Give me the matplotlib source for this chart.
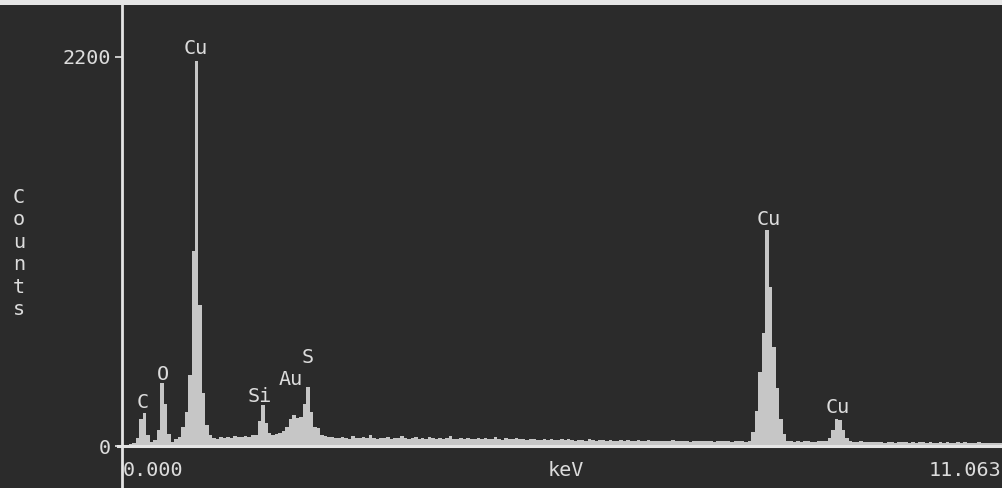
import numpy as np
import matplotlib
matplotlib.use("Agg")
import matplotlib.pyplot as plt
from matplotlib.lines import Line2D
from matplotlib.patches import Rectangle

# -----------------------------
# DATA (EDX spectrum, 256 display channels, 0 - 11.063 keV)
# -----------------------------
E_MAX = 11.063
Y_TOP = 2494

counts_low = [0, 4, 10, 18, 45, 150, 188, 60, 25, 35, 90, 356, 240, 70, 22, 40,
              50, 110, 190, 400, 1100, 2180, 800, 300, 120, 60]            # ch 0-25  (C, O, Cu L)
counts_bg1 = [48, 42, 50, 45, 52, 47, 55, 49, 53, 58, 52, 60]                # ch 26-37
counts_mid = [65, 140, 232, 130, 75, 60, 68, 75, 85, 110, 150, 175, 160, 165,
              240, 334, 190, 105, 100, 62, 55, 52, 50]                       # ch 38-60 (Si, Au, S)
counts_bg2 = [48, 44, 52, 46, 41, 55, 47, 43, 50, 45, 62, 44, 40, 48, 46, 51, 42, 47, 44, 58,
              43, 40, 46, 49, 41, 45, 38, 52, 44, 42, 47, 40, 43, 55, 41, 39, 45, 42, 48, 40,
              38, 44, 41, 46, 37, 42, 50, 39, 36, 43, 40, 38, 45, 37, 41, 35, 39, 42, 36, 34,
              38, 33, 40, 36, 32, 37, 35, 41, 33, 30, 36, 34, 31, 38, 33, 29, 35, 32, 30, 34,
              31, 28, 33, 30, 36, 29, 27, 32, 30, 28, 34, 29, 26, 31, 28, 30, 27, 32, 29, 26,
              30, 28, 25, 29, 27, 31, 26, 28, 30, 25, 27, 29, 26, 28, 25, 27, 30, 26, 24, 28]  # ch 61-180
counts_cuka = [80, 200, 420, 640, 1220, 900, 560, 330, 150, 70]               # ch 181-190
counts_bg3 = [30, 27, 25, 28, 24, 26, 29, 25, 23, 27, 26]                     # ch 191-201
counts_cukb = [30, 45, 90, 150, 145, 90, 45, 28]                              # ch 202-209
counts_bg4 = [24, 22, 26, 23, 21, 25, 20, 23, 22, 19, 24, 21, 18, 22, 20, 23, 19, 21, 18, 22,
              20, 17, 21, 19, 18, 22, 17, 20, 19, 16, 21, 18, 20, 17, 19, 16, 20, 18, 17, 19,
              16, 18, 17, 15, 19, 17]                                         # ch 210-255

counts = np.array(counts_low + counts_bg1 + counts_mid + counts_bg2 + counts_cuka
                  + counts_bg3 + counts_cukb + counts_bg4, dtype=float)
assert len(counts) == 256
edges = np.linspace(0, E_MAX, len(counts) + 1)

peak_names = ["Cu", "C", "O", "Si", "Au", "S", "Cu", "Cu"]
peak_x = [0.92, 0.261, 0.511, 1.715, 2.101, 2.312, 8.042, 8.90]
peak_y = [2217, 215, 373, 249, 345, 469, 1250, 187]

# -----------------------------
# STYLE
# -----------------------------
W, H = 1003, 488
BG = "#2b2b2b"
FILL = "#c6c6c6"
LINE = "#e4e4e4"
TXT = "#dcdcdc"
FONT = "DejaVu Sans Mono"
FS = 14.5

fig = plt.figure(figsize=(W / 100, H / 100), dpi=100, facecolor=BG)
ax = fig.add_axes([122 / W, 42 / H, 890 / W, 441 / H], facecolor=BG)

ax.stairs(counts, edges, fill=True, color=FILL, linewidth=0)

ax.set_xlim(0, E_MAX)
ax.set_ylim(0, Y_TOP)
for s in ax.spines.values():
    s.set_visible(False)
ax.set_xticks([])
ax.set_yticks([0, 2200])
ax.set_yticklabels(["0", "2200"], fontfamily=FONT, fontsize=FS, color=TXT)
ax.tick_params(axis="y", length=5, width=1.2, color=LINE, pad=3)

# axis lines
fig.add_artist(Line2D([122 / W, 122 / W], [0, 483 / H], color=LINE, lw=2.0,
                      transform=fig.transFigure))
fig.add_artist(Line2D([118 / W, 1.0], [42 / H, 42 / H], color=LINE, lw=2.2,
                      transform=fig.transFigure))
# light strip at top edge of the scan
fig.add_artist(Rectangle((0, 483 / H), 1, 5 / H, color="#e6e6e6",
                         transform=fig.transFigure, lw=0))

# peak labels
for name, x, y in zip(peak_names, peak_x, peak_y):
    ax.text(x, y, name, ha="center", va="baseline", fontfamily=FONT,
            fontsize=FS, color=TXT)

# x axis texts
fig.text(123 / W, 1 - 476 / H, "0.000", ha="left", va="baseline",
         fontfamily=FONT, fontsize=FS, color=TXT)
fig.text(566 / W, 1 - 476 / H, "keV", ha="center", va="baseline",
         fontfamily=FONT, fontsize=FS, color=TXT)
fig.text(1001 / W, 1 - 476 / H, "11.063", ha="right", va="baseline",
         fontfamily=FONT, fontsize=FS, color=TXT)

# vertical "Counts"
for i, ch in enumerate("Counts"):
    fig.text(19 / W, 1 - (203 + i * 22.4) / H, ch, ha="center", va="baseline",
             fontfamily=FONT, fontsize=FS, color=TXT)

fig.savefig("out.png", dpi=100, facecolor=BG)
